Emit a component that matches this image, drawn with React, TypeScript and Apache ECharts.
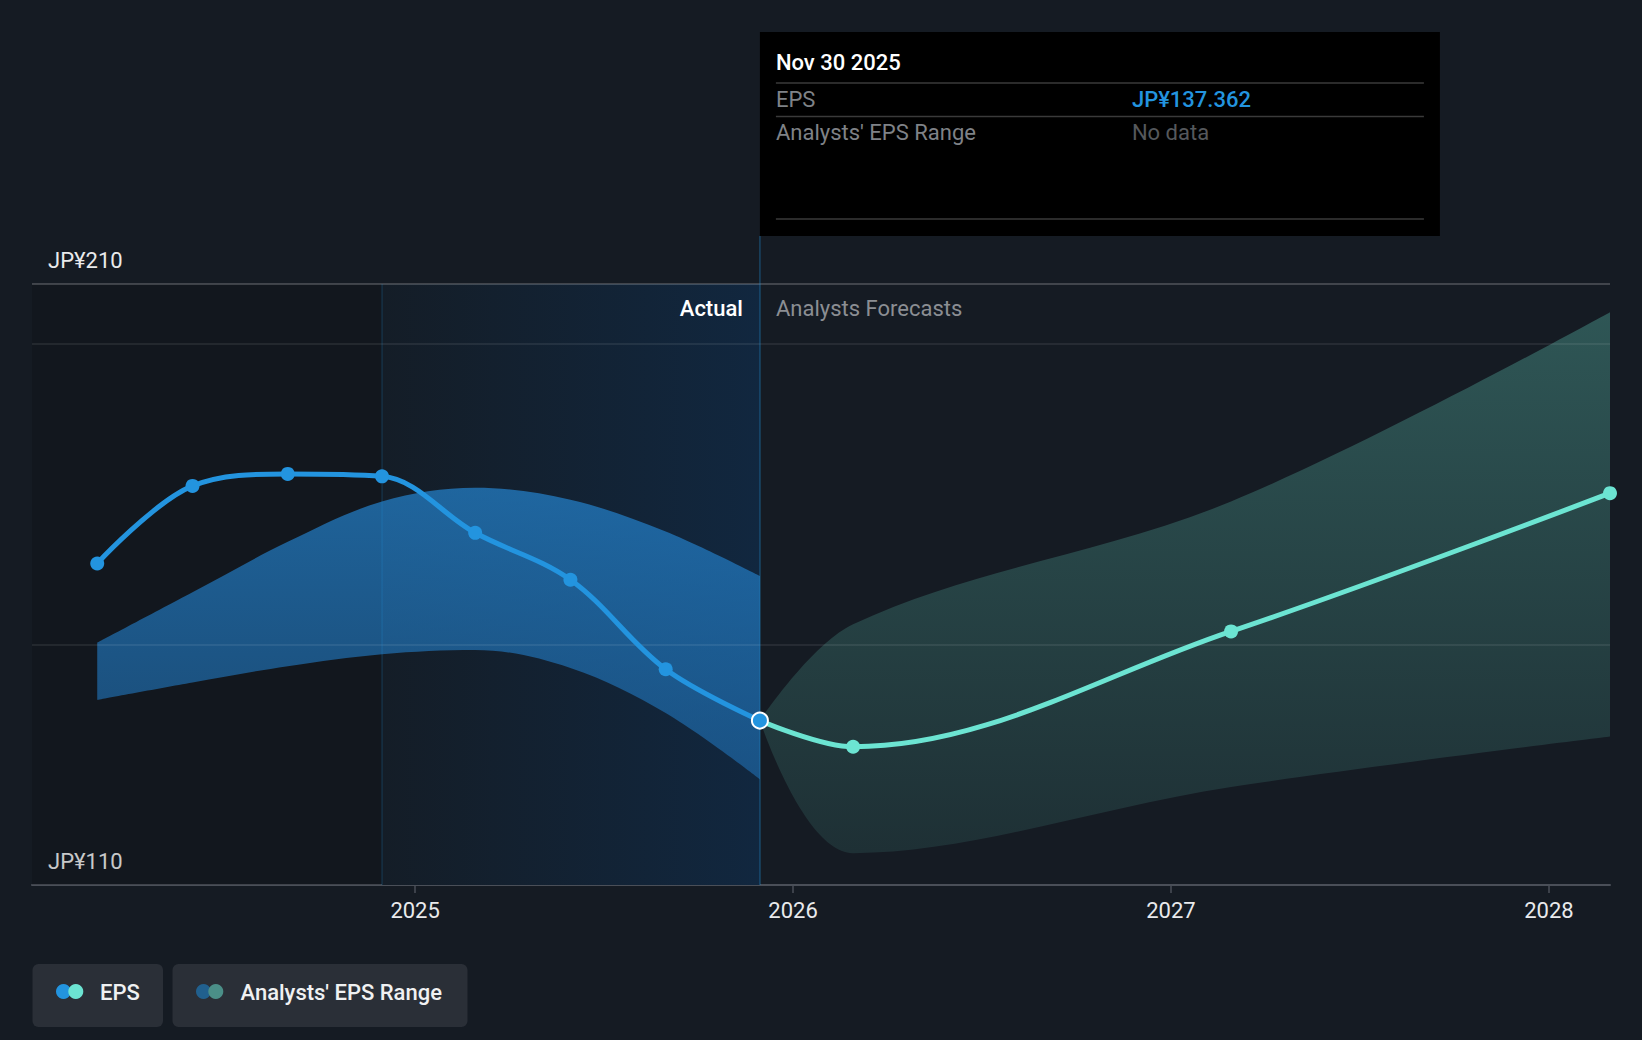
import React, { useEffect, useRef } from 'react';
import * as echarts from 'echarts';

// ---------- data ----------
const epsDates = ['2024-02-29', '2024-05-31', '2024-08-31', '2024-11-30', '2025-02-28', '2025-05-31', '2025-08-31', '2025-11-30'];
const epsValues = [163.5, 176.4, 178.4, 178.0, 168.6, 160.8, 145.9, 137.362];
const pastRangeLow = [140.8, 143.7, 146.4, 148.4, 149.1, 146.1, 138.6, 127.6];
const pastRangeHigh = [150.3, 158.7, 167.1, 173.8, 176.1, 174.1, 168.8, 161.4];

const forecastDates = ['2025-11-30', '2026-02-28', '2027-02-28', '2028-02-29'];
const forecastValues = [137.362, 133.0, 152.2, 175.2];
const forecastLow = [137.362, 115.3, 126.3, 134.7];
const forecastHigh = [137.362, 153.4, 173.8, 205.3];

const yearTicks = ['2025', '2026', '2027', '2028'];
const yMin = 110;
const yMax = 210;
const gridValues = [150, 200];
const xMin = '2023-12-28';
const xMax = '2028-02-29';
const actualStart = '2024-11-30';
const latestDate = '2025-11-30';

const tooltipTitle = 'Nov 30 2025';
const tooltipEps = 'JP¥137.362';

// ---------- styles ----------
const BG = '#151b23';
const BLUE = '#2394df';
const TEAL = '#6ce4d2';
const FONT = 'Roboto, "Noto Sans", sans-serif';
const FS = 22;

const ts = (s: string) => {
  const [y, m, d] = s.split('-').map(Number);
  return Date.UTC(y, m - 1, d);
};
const pairs = (d: string[], v: number[]) => d.map((x, i) => [ts(x), v[i]]);
const diffs = (lo: number[], hi: number[]) => hi.map((h, i) => +(h - lo[i]).toFixed(3));
const yearTickValues = yearTicks.map((y) => ts(y + '-01-01'));

function buildOption(): any {
  const epsData = epsDates.map((d, i) =>
    i === epsDates.length - 1
      ? { value: [ts(d), epsValues[i]], symbolSize: 16, itemStyle: { color: BLUE, borderColor: '#ffffff', borderWidth: 2 } }
      : { value: [ts(d), epsValues[i]] }
  );
  const fcData = forecastDates.map((d, i) =>
    i === 0 ? { value: [ts(d), forecastValues[i]], symbol: 'none' } : { value: [ts(d), forecastValues[i]] }
  );
  const lineSeriesBase = { type: 'line', xAxisIndex: 0, yAxisIndex: 0, silent: true };
  return {
    animation: false,
    backgroundColor: BG,
    textStyle: { fontFamily: FONT },
    grid: { left: 32, right: 32, top: 284, bottom: 155, containLabel: false },
    xAxis: [
      {
        type: 'time',
        position: 'bottom',
        min: ts(xMin),
        max: ts(xMax),
        axisLine: { show: false },
        axisTick: { show: false },
        axisLabel: { show: false },
        splitLine: { show: false },
      },
      {
        type: 'value',
        position: 'bottom',
        min: ts(xMin),
        max: ts(xMax),
        axisLine: { show: true, onZero: false, lineStyle: { color: '#4a4f58', width: 2 } },
        axisTick: {
          show: true,
          length: 8,
          lineStyle: { color: '#4a4f58', width: 1.5 },
          customValues: yearTickValues,
        },
        axisLabel: {
          show: true,
          color: '#e9eaec',
          fontSize: FS,
          fontFamily: FONT,
          margin: 14,
          customValues: yearTickValues,
          formatter: (v: number) => {
            const i = yearTickValues.indexOf(v);
            return i >= 0 ? yearTicks[i] : '';
          },
        },
        splitLine: { show: false },
      },
    ],
    yAxis: {
      type: 'value',
      min: yMin,
      max: yMax,
      interval: yMax - yMin,
      axisLine: { show: false },
      axisTick: { show: false },
      splitLine: { show: false },
      axisLabel: {
        show: true,
        inside: true,
        margin: 16,
        color: '#e9eaec',
        fontSize: FS,
        fontFamily: FONT,
        verticalAlign: 'bottom',
        padding: [0, 0, 13, 0],
        formatter: 'JP¥{value}',
      },
    },
    series: [
      {
        ...lineSeriesBase,
        name: 'regions',
        data: [],
        z: 1,
        markArea: {
          silent: true,
          data: [
            [{ xAxis: ts(xMin), itemStyle: { color: 'rgba(0,0,0,0.14)' } }, { xAxis: ts(actualStart) }],
            [
              {
                xAxis: ts(actualStart),
                itemStyle: {
                  color: new echarts.graphic.LinearGradient(0, 0, 1, 0, [
                    { offset: 0, color: '#141d27' },
                    { offset: 1, color: '#11273f' },
                  ]),
                },
              },
              { xAxis: ts(latestDate) },
            ],
          ],
        },
      },
      {
        ...lineSeriesBase,
        name: 'pastLow',
        stack: 'past',
        data: pairs(epsDates, pastRangeLow),
        smooth: 0.35,
        symbol: 'none',
        lineStyle: { opacity: 0 },
        z: 2,
      },
      {
        ...lineSeriesBase,
        name: 'pastRange',
        stack: 'past',
        data: pairs(epsDates, diffs(pastRangeLow, pastRangeHigh)),
        smooth: 0.35,
        symbol: 'none',
        lineStyle: { opacity: 0 },
        areaStyle: {
          opacity: 1,
          color: new echarts.graphic.LinearGradient(0, 0, 0, 1, [
            { offset: 0, color: 'rgba(36,132,208,0.7)' },
            { offset: 1, color: 'rgba(33,118,190,0.55)' },
          ]),
        },
        z: 2,
      },
      {
        ...lineSeriesBase,
        name: 'fcLow',
        stack: 'fc',
        data: pairs(forecastDates, forecastLow),
        smooth: 0.35,
        symbol: 'none',
        lineStyle: { opacity: 0 },
        z: 2,
      },
      {
        ...lineSeriesBase,
        name: 'fcRange',
        stack: 'fc',
        data: pairs(forecastDates, diffs(forecastLow, forecastHigh)),
        smooth: 0.35,
        symbol: 'none',
        lineStyle: { opacity: 0 },
        areaStyle: {
          opacity: 1,
          color: new echarts.graphic.LinearGradient(0, 0, 0, 1, [
            { offset: 0, color: 'rgba(74,150,140,0.48)' },
            { offset: 1, color: 'rgba(74,150,140,0.17)' },
          ]),
        },
        z: 2,
      },
      {
        ...lineSeriesBase,
        name: 'gridlines',
        data: [],
        z: 3,
        markLine: {
          silent: true,
          symbol: 'none',
          label: { show: false },
          data: [
            ...gridValues.map((v) => ({ yAxis: v, lineStyle: { color: 'rgba(255,255,255,0.1)', width: 1.5, type: 'solid' } })),
            { yAxis: yMax, lineStyle: { color: 'rgba(255,255,255,0.25)', width: 1.5, type: 'solid' } },
            { xAxis: ts(actualStart), lineStyle: { color: 'rgba(35,148,223,0.18)', width: 1.5, type: 'solid' } },
            { xAxis: ts(latestDate), lineStyle: { color: 'rgba(35,148,223,0.35)', width: 1.5, type: 'solid' } },
          ],
        },
      },
      {
        ...lineSeriesBase,
        name: 'EPS forecast',
        data: fcData,
        smooth: 0.35,
        symbol: 'circle',
        symbolSize: 14,
        lineStyle: { color: TEAL, width: 5 },
        itemStyle: { color: TEAL },
        z: 4,
      },
      {
        ...lineSeriesBase,
        name: 'EPS',
        data: epsData,
        smooth: 0.35,
        symbol: 'circle',
        symbolSize: 14,
        lineStyle: { color: BLUE, width: 5 },
        itemStyle: { color: BLUE },
        z: 5,
      },
    ],
  };
}

function buildGraphic(xCur: number, yTop: number): any[] {
  const tipTop = 32;
  const tipH = 204;
  const tipW = 680;
  const pad = 16;
  const valX = xCur + 372;
  const t = (x: number, y: number, text: string, fill: string, weight: any = 400, align = 'left') => ({
    type: 'text',
    x,
    y,
    z: 101,
    silent: true,
    style: { text, fill, fontSize: FS, fontFamily: FONT, fontWeight: weight, textAlign: align, textVerticalAlign: 'middle' },
  });
  const hl = (y: number) => ({
    type: 'line',
    z: 101,
    silent: true,
    shape: { x1: xCur + pad, y1: y, x2: xCur + tipW - pad, y2: y },
    style: { stroke: '#3a3a3a', lineWidth: 1.5 },
  });
  const legendY = 964;
  const legendH = 63;
  return [
    {
      type: 'line',
      z: 50,
      silent: true,
      shape: { x1: xCur, y1: tipTop + tipH, x2: xCur, y2: yTop },
      style: { stroke: 'rgba(35,148,223,0.35)', lineWidth: 1.5 },
    },
    { type: 'rect', z: 100, silent: true, shape: { x: xCur, y: tipTop, width: tipW, height: tipH }, style: { fill: '#000000' } },
    t(xCur + pad, 62, tooltipTitle, '#ffffff', 500),
    hl(83),
    t(xCur + pad, 99, 'EPS', '#7f8287'),
    t(valX, 99, tooltipEps, BLUE, 500),
    hl(116.5),
    t(xCur + pad, 132.5, "Analysts' EPS Range", '#7f8287'),
    t(valX, 132.5, 'No data', '#55585c'),
    hl(219),
    t(xCur - 17, 308, 'Actual', '#ffffff', 500, 'right'),
    t(xCur + 16, 308, 'Analysts Forecasts', '#8b8e93', 400, 'left'),
    { type: 'rect', z: 100, silent: true, shape: { x: 32.5, y: legendY, width: 130.5, height: legendH, r: 6 }, style: { fill: '#2a2f37' } },
    { type: 'circle', z: 101, silent: true, shape: { cx: 63.5, cy: legendY + 27.5, r: 7.5 }, style: { fill: BLUE } },
    { type: 'circle', z: 102, silent: true, shape: { cx: 75.8, cy: legendY + 27.5, r: 7.5 }, style: { fill: TEAL } },
    t(100, legendY + 28, 'EPS', '#f0f1f2', 500),
    { type: 'rect', z: 100, silent: true, shape: { x: 172.5, y: legendY, width: 295, height: legendH, r: 6 }, style: { fill: '#2a2f37' } },
    { type: 'circle', z: 101, silent: true, shape: { cx: 203.5, cy: legendY + 27.5, r: 7.5 }, style: { fill: '#21608e' } },
    { type: 'circle', z: 102, silent: true, shape: { cx: 215.8, cy: legendY + 27.5, r: 7.5 }, style: { fill: '#4b8f88' } },
    t(240.5, legendY + 28, "Analysts' EPS Range", '#f0f1f2', 500),
  ];
}

export default function App() {
  const ref = useRef<HTMLDivElement>(null);
  useEffect(() => {
    document.body.style.margin = '0';
    document.body.style.background = BG;
    const chart = echarts.init(ref.current as HTMLDivElement, null, { renderer: 'svg' });
    chart.setOption(buildOption());
    const xCur = chart.convertToPixel({ xAxisIndex: 0 }, ts(latestDate)) as number;
    const yTop = chart.convertToPixel({ yAxisIndex: 0 }, yMax) as number;
    chart.setOption({ graphic: buildGraphic(xCur, yTop) });
    return () => chart.dispose();
  }, []);
  return <div ref={ref} style={{ width: 1642, height: 1040 }} />;
}
